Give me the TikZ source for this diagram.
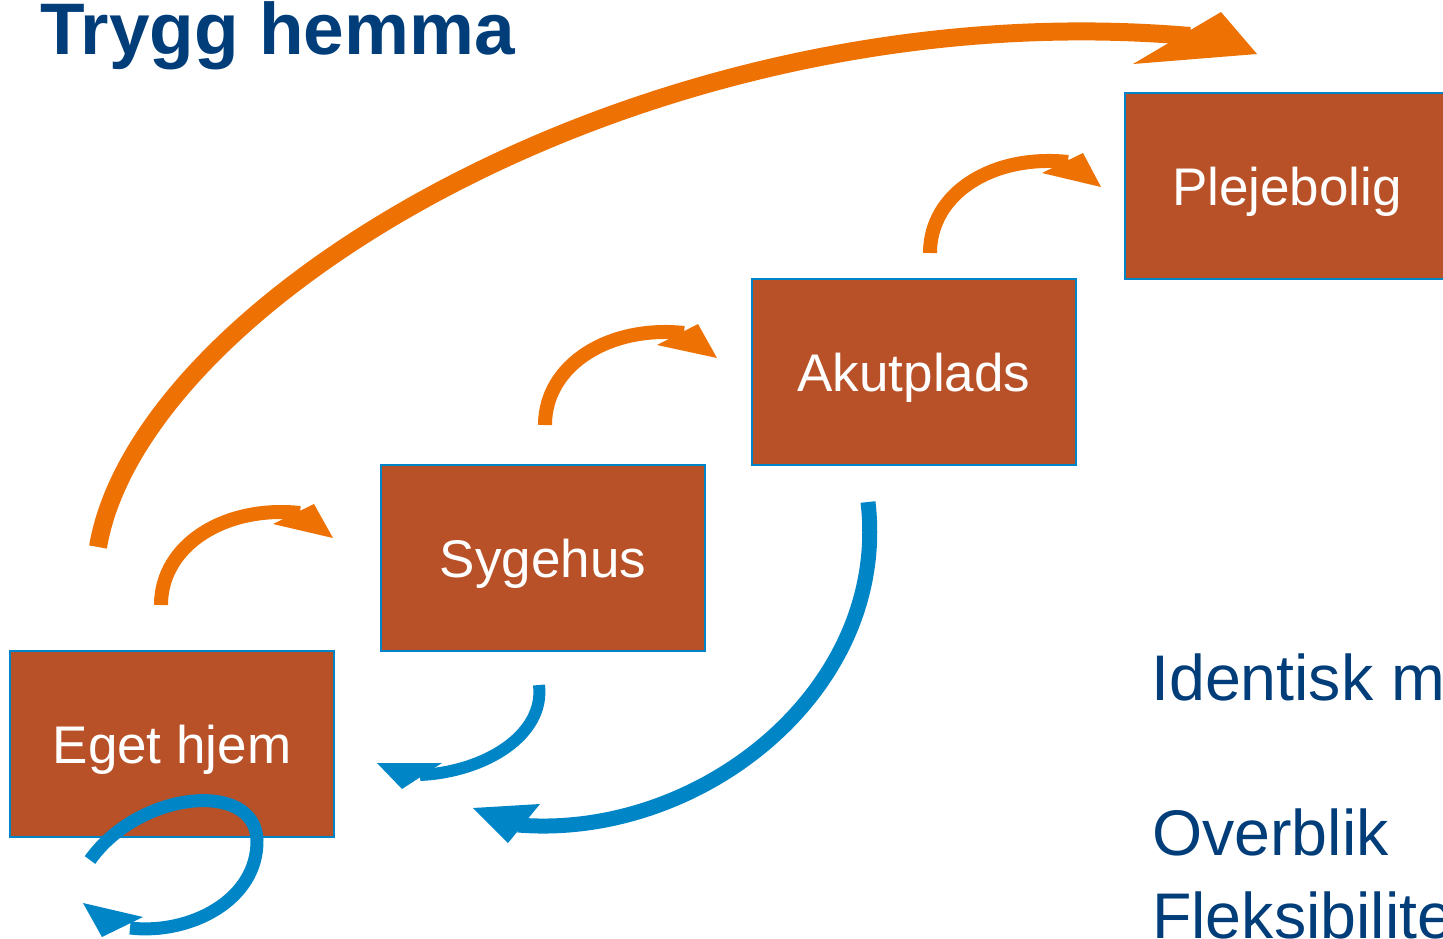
\documentclass[tikz,border=0pt]{standalone}
\usepackage{fontspec}
\setmainfont{Liberation Sans}
\definecolor{boxred}{HTML}{B85128}
\definecolor{boxline}{HTML}{0084C8}
\definecolor{goorange}{HTML}{EE7203}
\definecolor{goblue}{HTML}{0085C7}
\definecolor{textblue}{HTML}{003D79}

\begin{document}
\begin{tikzpicture}[x=1pt,y=-1pt,
		place/.style={draw=boxline, line width=2pt, fill=boxred, text=white,
			minimum width=324pt, minimum height=186pt, inner sep=0pt,
			text height=40pt, text depth=2pt, font=\fontsize{53}{60}\selectfont},
		heading/.style={anchor=base west, inner sep=0pt, text=textblue},
		upflow/.style={draw=goorange, line width=14pt},
		backflow/.style={draw=goblue, line width=13pt}]
	\useasboundingbox (0,0) rectangle (1443,938);
	\clip (0,0) rectangle (1443,938);
	\node[heading, font=\bfseries\fontsize{73}{80}\selectfont] (title) at (40,54) {Trygg hemma};
	\node[place] (eget) at (172,744) {Eget hjem};
	\node[place] (sygehus) at (543,558) {Sygehus};
	\node[place] (akut) at (914,372) {Akutplads};
	\node[place] (pleje) at (1287,186) {Plejebolig};
	\node[heading, font=\fontsize{64.5}{70}\selectfont] (identisk) at (1151,700) {Identisk m};
	\node[heading, font=\fontsize{64.5}{70}\selectfont] (overblik) at (1152,855) {Overblik};
	\node[heading, font=\fontsize{64.5}{70}\selectfont] (fleks) at (1152,938) {Fleksibilite};
	\coordinate (egetout) at (161,605);
	\coordinate (sygehusin) at (333,538);
	\coordinate (sygehusout) at (545,425);
	\coordinate (akutin) at (717,358);
	\coordinate (akutout) at (930,253);
	\coordinate (plejein) at (1101,187);
	\coordinate (jumpout) at (98,547);
	\coordinate (jumpin) at (1257,54);
	\coordinate (sygehusback) at (539,685);
	\coordinate (egetback) at (377,763);
	\coordinate (akutback) at (868,502);
	\coordinate (egetfar) at (473,808);
	\coordinate (loopout) at (90,860);
	\coordinate (loopin) at (83,903);
	\draw[upflow] (egetout) .. controls (161,545) and (225,505) .. (300,513);
	\fill[goorange] (sygehusin) -- (314,504) -- (273,524) -- cycle;
	\draw[upflow] (sygehusout) .. controls (545,365) and (609,325) .. (684,333);
	\fill[goorange] (akutin) -- (698,324) -- (657,345) -- cycle;
	\draw[upflow] (akutout) .. controls (930,193) and (993,154) .. (1068,162);
	\fill[goorange] (plejein) -- (1083,153) -- (1042,173) -- cycle;
	\draw[upflow, line width=18pt] (jumpout) .. controls (140,300) and (650,-10) .. (1190,36);
	\fill[goorange] (jumpin) -- (1221,12) -- (1133,64) -- cycle;
	\draw[backflow, line width=12pt] (sygehusback) .. controls (545,735) and (485,772) .. (420,775);
	\fill[goblue] (egetback) -- (442,763) -- (402,789) -- cycle;
	\draw[backflow, line width=15pt] (akutback) .. controls (890,690) and (700,840) .. (518,825);
	\fill[goblue] (egetfar) -- (540,804) -- (508,843) -- cycle;
	\draw[backflow] (loopout) .. controls (140,790) and (255,780) .. (257,840) .. controls (258,900) and (190,935) .. (130,928);
	\fill[goblue] (loopin) -- (143,917) -- (102,937) -- cycle;
\end{tikzpicture}
\end{document}
